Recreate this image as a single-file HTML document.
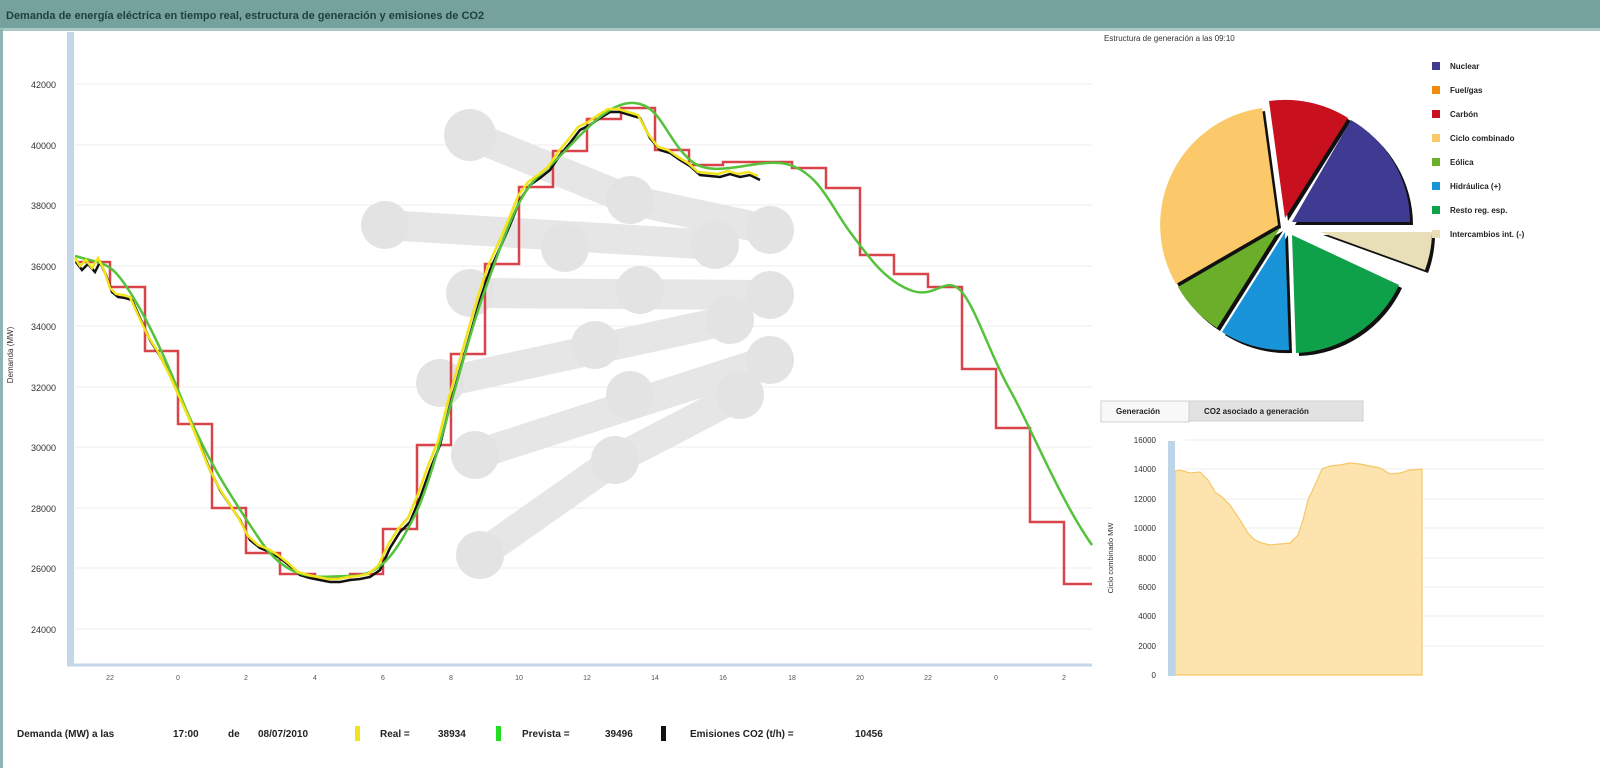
<!DOCTYPE html>
<html><head><meta charset="utf-8"><style>
html,body{margin:0;padding:0;width:1600px;height:768px;overflow:hidden;background:#fff;font-family:"Liberation Sans",sans-serif}
</style></head><body>
<svg width="1600" height="768" xmlns="http://www.w3.org/2000/svg" font-family="Liberation Sans, sans-serif">
<rect x="0" y="0" width="1600" height="768" fill="#fff"/>
<rect x="0" y="0" width="1600" height="29" fill="#76a29e"/>
<rect x="0" y="28" width="1600" height="3" fill="#a9c7c4"/>
<rect x="0" y="29" width="3" height="739" fill="#8fb3b0"/>
<text x="6" y="19" font-size="11" font-weight="bold" fill="#1f3f3c">Demanda de energía eléctrica en tiempo real, estructura de generación y emisiones de CO2</text>

<!-- main grid -->
<g stroke="#eeeeee" stroke-width="1">
<line x1="75" y1="84" x2="1092" y2="84"/><line x1="75" y1="145" x2="1092" y2="145"/><line x1="75" y1="205" x2="1092" y2="205"/><line x1="75" y1="266" x2="1092" y2="266"/><line x1="75" y1="326" x2="1092" y2="326"/><line x1="75" y1="387" x2="1092" y2="387"/><line x1="75" y1="447" x2="1092" y2="447"/><line x1="75" y1="508" x2="1092" y2="508"/><line x1="75" y1="568" x2="1092" y2="568"/><line x1="75" y1="629" x2="1092" y2="629"/>
</g>
<rect x="67" y="32" width="7" height="634" fill="#c4d6e8"/>
<line x1="67" y1="665" x2="1092" y2="665" stroke="#c4d6e8" stroke-width="3"/>
<g font-size="9" fill="#333" text-anchor="end">
<text x="56" y="88">42000</text><text x="56" y="149">40000</text><text x="56" y="209">38000</text><text x="56" y="270">36000</text><text x="56" y="330">34000</text><text x="56" y="391">32000</text><text x="56" y="451">30000</text><text x="56" y="512">28000</text><text x="56" y="572">26000</text><text x="56" y="633">24000</text>
</g>
<text transform="translate(13,355) rotate(-90)" font-size="8" fill="#333" text-anchor="middle">Demanda (MW)</text>
<g font-size="7" fill="#555" text-anchor="middle">
<text x="110" y="680">22</text><text x="178" y="680">0</text><text x="246" y="680">2</text><text x="315" y="680">4</text><text x="383" y="680">6</text><text x="451" y="680">8</text><text x="519" y="680">10</text><text x="587" y="680">12</text><text x="655" y="680">14</text><text x="723" y="680">16</text><text x="792" y="680">18</text><text x="860" y="680">20</text><text x="928" y="680">22</text><text x="996" y="680">0</text><text x="1064" y="680">2</text>
</g>

<!-- watermark -->
<g stroke="#e6e6e6" stroke-width="30" stroke-linecap="round" fill="#e6e6e6">
<line x1="470" y1="135" x2="630" y2="200"/><line x1="630" y1="200" x2="770" y2="230"/>
<line x1="385" y1="225" x2="715" y2="245"/>
<line x1="470" y1="293" x2="770" y2="295"/>
<line x1="440" y1="383" x2="730" y2="320"/>
<line x1="475" y1="455" x2="770" y2="360"/>
<line x1="480" y1="555" x2="615" y2="460"/><line x1="615" y1="460" x2="740" y2="395"/>
</g>
<g fill="#e3e3e3">
<circle cx="470" cy="135" r="26"/><circle cx="630" cy="200" r="24"/><circle cx="770" cy="230" r="24"/>
<circle cx="385" cy="225" r="24"/><circle cx="565" cy="248" r="24"/><circle cx="715" cy="245" r="24"/>
<circle cx="470" cy="293" r="24"/><circle cx="640" cy="290" r="24"/><circle cx="770" cy="295" r="24"/>
<circle cx="440" cy="383" r="24"/><circle cx="595" cy="345" r="24"/><circle cx="730" cy="320" r="24"/>
<circle cx="475" cy="455" r="24"/><circle cx="630" cy="395" r="24"/><circle cx="770" cy="360" r="24"/>
<circle cx="480" cy="555" r="24"/><circle cx="615" cy="460" r="24"/><circle cx="740" cy="395" r="24"/>
</g>

<!-- red step -->
<polyline fill="none" stroke="#d9434a" stroke-width="2.5" points="75,262 110,262 110,287 145,287 145,351 178,351 178,424 212,424 212,508 246,508 246,553 280,553 280,574 315,574 315,577 350,577 350,574 383,574 383,529 417,529 417,445 451,445 451,354 485,354 485,264 519,264 519,187 553,187 553,151 587,151 587,119 621,119 621,108 655,108 655,150 689,150 689,165 723,165 723,162 757,162 757,162 792,162 792,168 826,168 826,188 860,188 860,255 894,255 894,274 928,274 928,287 962,287 962,369 996,369 996,428 1030,428 1030,522 1064,522 1064,584 1092,584"/>
<!-- black -->
<polyline fill="none" stroke="#111" stroke-width="2.5" points="76,262 82,270 88,264 95,272 100,262 106,275 112,292 118,297 125,298 132,300 140,318 150,340 160,356 170,375 180,398 190,420 200,445 210,470 220,490 230,505 240,520 250,540 260,548 270,552 280,558 290,566 300,575 310,578 320,580 330,582 340,582 350,580 360,579 370,577 380,570 390,548 400,532 410,522 420,498 430,470 440,445 450,405 460,370 470,335 480,300 490,270 500,248 510,225 520,200 530,185 540,178 550,170 560,155 570,143 580,130 590,125 600,118 610,112 620,112 630,115 640,118 650,138 660,150 670,153 680,160 690,166 700,175 710,176 720,177 730,174 740,177 750,175 760,180"/>
<!-- green -->
<path fill="none" stroke="#55c23b" stroke-width="2.5" d="M75,256 C95,262 105,262 115,272 S150,320 178,390 S230,495 260,540 S320,576 350,576 S395,555 415,515 S460,360 485,290 S520,190 545,170 S600,105 630,103 S665,138 690,160 S760,155 790,165 S830,205 850,232 S885,280 910,290 S945,275 960,290 S990,355 1010,390 S1060,500 1092,545"/>
<!-- yellow -->
<polyline fill="none" stroke="#f2e41a" stroke-width="2.5" points="75,258 80,266 86,260 92,268 98,258 104,270 110,288 116,294 123,295 130,297 138,315 148,336 158,352 168,372 178,394 188,416 198,441 208,466 218,486 228,502 238,517 248,536 258,545 268,549 278,555 288,563 298,572 308,575 318,577 328,579 338,579 348,577 358,576 368,574 378,566 388,545 398,529 408,518 418,494 428,466 438,441 448,401 458,366 468,331 478,296 488,266 498,244 508,221 518,196 528,182 538,175 548,167 558,152 568,140 578,127 588,122 598,115 608,109 618,109 628,112 638,115 648,134 658,147 668,150 678,157 688,163 698,172 708,173 718,174 728,171 738,174 748,172 758,176"/>

<!-- legend bottom -->
<g font-size="10" font-weight="bold" fill="#222">
<text x="17" y="737">Demanda (MW) a las</text>
<text x="173" y="737">17:00</text>
<text x="228" y="737">de</text>
<text x="258" y="737">08/07/2010</text>
<rect x="355" y="726" width="5" height="15" fill="#f2e41a"/>
<text x="380" y="737">Real =</text>
<text x="438" y="737">38934</text>
<rect x="496" y="726" width="5" height="15" fill="#22dd22"/>
<text x="522" y="737">Prevista =</text>
<text x="605" y="737">39496</text>
<rect x="661" y="726" width="5" height="15" fill="#111"/>
<text x="690" y="737">Emisiones CO2 (t/h) =</text>
<text x="855" y="737">10456</text>
</g>

<!-- pie -->
<text x="1104" y="41" font-size="8" fill="#333">Estructura de generación a las 09:10</text>
<g transform="translate(3,3)" fill="#111">
<path d="M1292,222 L1351,120 A118,118 0 0 1 1410,222 Z"/>
<path d="M1320,232 L1432,232 A112,112 0 0 1 1425,270 Z"/>
<path d="M1292,235 L1399,285 A118,118 0 0 1 1296,353 Z"/>
<path d="M1285,232 L1289,350 A118,118 0 0 1 1222,332 Z"/>
<path d="M1280,228 L1217,328 A118,118 0 0 1 1178,287 Z"/>
<path d="M1278,225 L1176,284 A118,118 0 0 1 1262,108 Z"/>
<path d="M1285,218 L1269,101 A118,118 0 0 1 1348,118 Z"/>
</g>
<path d="M1292,222 L1351,120 A118,118 0 0 1 1410,222 Z" fill="#3f3b92"/>
<path d="M1320,232 L1432,232 A112,112 0 0 1 1425,270 Z" fill="#e8dfb8"/>
<path d="M1292,235 L1399,285 A118,118 0 0 1 1296,353 Z" fill="#0fa04a"/>
<path d="M1285,232 L1289,350 A118,118 0 0 1 1222,332 Z" fill="#1a94d8"/>
<path d="M1280,228 L1217,328 A118,118 0 0 1 1178,287 Z" fill="#6aae2a"/>
<path d="M1278,225 L1176,284 A118,118 0 0 1 1262,108 Z" fill="#fcc96a"/>
<path d="M1285,218 L1269,101 A118,118 0 0 1 1348,118 Z" fill="#c8101e"/>
<g font-size="8" font-weight="bold" fill="#222">
<rect x="1432" y="62" width="8" height="8" fill="#3f3b92"/><text x="1450" y="69">Nuclear</text>
<rect x="1432" y="86" width="8" height="8" fill="#f08c10"/><text x="1450" y="93">Fuel/gas</text>
<rect x="1432" y="110" width="8" height="8" fill="#c8101e"/><text x="1450" y="117">Carbón</text>
<rect x="1432" y="134" width="8" height="8" fill="#fcc96a"/><text x="1450" y="141">Ciclo combinado</text>
<rect x="1432" y="158" width="8" height="8" fill="#6aae2a"/><text x="1450" y="165">Eólica</text>
<rect x="1432" y="182" width="8" height="8" fill="#1a94d8"/><text x="1450" y="189">Hidráulica (+)</text>
<rect x="1432" y="206" width="8" height="8" fill="#0fa04a"/><text x="1450" y="213">Resto reg. esp.</text>
<rect x="1432" y="230" width="8" height="8" fill="#e8dfb8"/><text x="1450" y="237">Intercambios int. (-)</text>
</g>

<!-- tabs -->
<rect x="1101" y="401" width="262" height="20" fill="#e2e2e2" stroke="#d0d0d0"/>
<rect x="1101" y="401" width="88" height="21" fill="#f8f8f8" stroke="#d0d0d0"/>
<g font-size="8" font-weight="bold" fill="#222">
<text x="1116" y="414">Generación</text><text x="1204" y="414">CO2 asociado a generación</text>
</g>
<!-- small chart -->
<g stroke="#eeeeee">
<line x1="1185" y1="440" x2="1545" y2="440"/><line x1="1185" y1="469" x2="1545" y2="469"/><line x1="1185" y1="499" x2="1545" y2="499"/><line x1="1185" y1="528" x2="1545" y2="528"/><line x1="1185" y1="558" x2="1545" y2="558"/><line x1="1185" y1="587" x2="1545" y2="587"/><line x1="1185" y1="616" x2="1545" y2="616"/><line x1="1185" y1="646" x2="1545" y2="646"/>
</g>
<path d="M1175,471 L1180,470 1190,473 1200,472 1208,480 1215,492 1222,497 1230,505 1240,520 1248,533 1255,540 1262,543 1270,545 1280,544 1290,543 1298,535 1303,520 1308,500 1315,485 1322,469 1330,466 1340,465 1350,463 1360,464 1370,466 1380,468 1390,474 1400,473 1410,470 1422,469 L1422,675 L1175,675 Z" fill="#fde3ad" stroke="#f8c868" stroke-width="1.2"/>
<rect x="1168" y="441" width="7" height="235" fill="#bcd3e8"/>
<g font-size="8" fill="#333" text-anchor="end">
<text x="1156" y="443">16000</text><text x="1156" y="472">14000</text><text x="1156" y="502">12000</text><text x="1156" y="531">10000</text><text x="1156" y="561">8000</text><text x="1156" y="590">6000</text><text x="1156" y="619">4000</text><text x="1156" y="649">2000</text><text x="1156" y="678">0</text>
</g>
<text transform="translate(1113,558) rotate(-90)" font-size="7.5" fill="#333" text-anchor="middle">Ciclo combinado MW</text>
</svg>
</body></html>
